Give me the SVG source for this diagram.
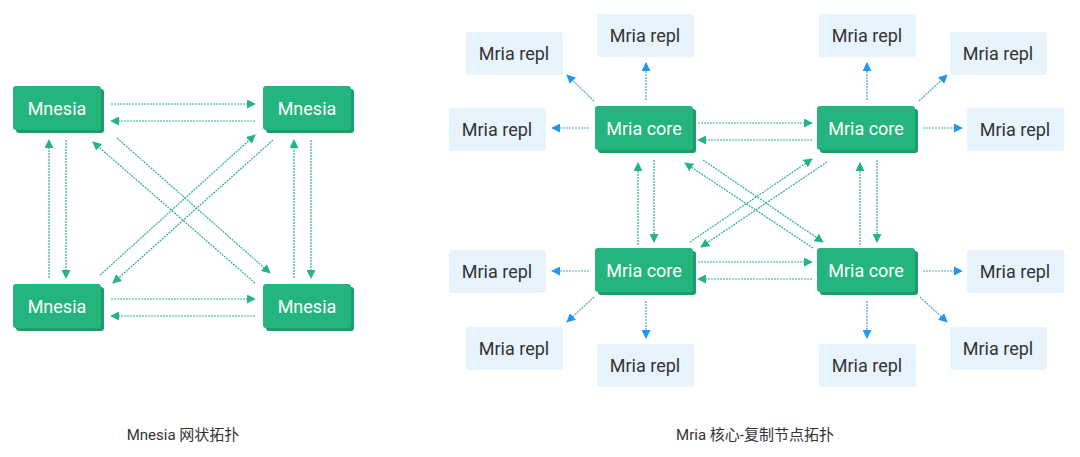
<svg xmlns="http://www.w3.org/2000/svg" width="1080" height="457" viewBox="0 0 1080 457">
<style>
.sh{fill:#1c9d69}
.nd{fill:#24b47e}
.wt{font-family:Roboto,"Liberation Sans",sans-serif;font-size:18px;fill:#ffffff;text-anchor:middle;dominant-baseline:central}
.rp{fill:#e8f4fd}
.dt{font-family:Roboto,"Liberation Sans",sans-serif;font-size:18px;fill:#333333;text-anchor:middle;dominant-baseline:central}
.cap{font-family:Roboto,"Noto Sans CJK SC",sans-serif;font-size:15px;fill:#333333;text-anchor:middle;dominant-baseline:central}
.g{stroke:#2bb37f;stroke-width:1.2;stroke-dasharray:2 1;fill:none;marker-end:url(#ag)}
.b{stroke:#45a9c9;stroke-width:1.2;stroke-dasharray:2 1;fill:none;marker-end:url(#ab)}
</style>
<defs>
<marker id="ag" viewBox="0 0 10 10" refX="9" refY="5" markerWidth="9" markerHeight="9" markerUnits="userSpaceOnUse" orient="auto"><path d="M0,0 L10,5 L0,10 z" fill="#24b47e"/></marker>
<marker id="ab" viewBox="0 0 10 10" refX="9" refY="5" markerWidth="9" markerHeight="9" markerUnits="userSpaceOnUse" orient="auto"><path d="M0,0 L10,5 L0,10 z" fill="#2196f3"/></marker>
</defs>
<rect width="1080" height="457" fill="#ffffff"/>

<g id="connectors">
<!-- Mnesia mesh -->
<line class="g" x1="111" y1="104" x2="255" y2="104"/>
<line class="g" x1="255" y1="121" x2="111" y2="121"/>
<line class="g" x1="111" y1="299" x2="255" y2="299"/>
<line class="g" x1="255" y1="316" x2="111" y2="316"/>
<line class="g" x1="49" y1="278" x2="49" y2="140"/>
<line class="g" x1="66" y1="140" x2="66" y2="278"/>
<line class="g" x1="294" y1="278" x2="294" y2="140"/>
<line class="g" x1="311" y1="140" x2="311" y2="278"/>
<line class="g" x1="117" y1="138" x2="270" y2="273"/>
<line class="g" x1="255" y1="283" x2="93" y2="142"/>
<line class="g" x1="100" y1="275" x2="255" y2="135"/>
<line class="g" x1="273" y1="140" x2="113" y2="283"/>
<!-- Mria core mesh -->
<line class="g" x1="698" y1="123" x2="812" y2="123"/>
<line class="g" x1="812" y1="140" x2="698" y2="140"/>
<line class="g" x1="698" y1="262" x2="812" y2="262"/>
<line class="g" x1="812" y1="279" x2="698" y2="279"/>
<line class="g" x1="638" y1="245" x2="638" y2="163"/>
<line class="g" x1="654" y1="160" x2="654" y2="242"/>
<line class="g" x1="860" y1="245" x2="860" y2="163"/>
<line class="g" x1="877" y1="160" x2="877" y2="242"/>
<line class="g" x1="703" y1="160" x2="823" y2="242"/>
<line class="g" x1="813" y1="248" x2="685" y2="163"/>
<line class="g" x1="690" y1="242" x2="812" y2="159"/>
<line class="g" x1="827" y1="162" x2="701" y2="247"/>
<!-- core to repl -->
<line class="b" x1="646" y1="100" x2="646" y2="63"/>
<line class="b" x1="594" y1="101" x2="567" y2="75"/>
<line class="b" x1="589" y1="128" x2="552" y2="128"/>
<line class="b" x1="867" y1="100" x2="867" y2="63"/>
<line class="b" x1="919" y1="101" x2="947" y2="75"/>
<line class="b" x1="923" y1="128" x2="962" y2="128"/>
<line class="b" x1="589" y1="271" x2="552" y2="271"/>
<line class="b" x1="594" y1="297" x2="567" y2="322"/>
<line class="b" x1="646" y1="301" x2="646" y2="338"/>
<line class="b" x1="923" y1="271" x2="962" y2="271"/>
<line class="b" x1="920" y1="297" x2="947" y2="322"/>
<line class="b" x1="867" y1="301" x2="867" y2="338"/>
</g>

<g id="mnesia-tl"><rect class="sh" x="16" y="89" width="88" height="44" rx="3"/><rect class="nd" x="13" y="86" width="88" height="44" rx="3"/><text class="wt" x="57" y="108">Mnesia</text></g>
<g id="mnesia-tr"><rect class="sh" x="266" y="89" width="88" height="44" rx="3"/><rect class="nd" x="263" y="86" width="88" height="44" rx="3"/><text class="wt" x="307" y="108">Mnesia</text></g>
<g id="mnesia-bl"><rect class="sh" x="16" y="287" width="88" height="44" rx="3"/><rect class="nd" x="13" y="284" width="88" height="44" rx="3"/><text class="wt" x="57" y="306">Mnesia</text></g>
<g id="mnesia-br"><rect class="sh" x="266" y="287" width="88" height="44" rx="3"/><rect class="nd" x="263" y="284" width="88" height="44" rx="3"/><text class="wt" x="307" y="306">Mnesia</text></g>

<g id="core-tl"><rect class="sh" x="598" y="109" width="98" height="44" rx="3"/><rect class="nd" x="595" y="106" width="98" height="44" rx="3"/><text class="wt" x="644" y="128">Mria core</text></g>
<g id="core-tr"><rect class="sh" x="820" y="109" width="98" height="44" rx="3"/><rect class="nd" x="817" y="106" width="98" height="44" rx="3"/><text class="wt" x="866" y="128">Mria core</text></g>
<g id="core-bl"><rect class="sh" x="598" y="251" width="98" height="44" rx="3"/><rect class="nd" x="595" y="248" width="98" height="44" rx="3"/><text class="wt" x="644" y="270">Mria core</text></g>
<g id="core-br"><rect class="sh" x="820" y="251" width="98" height="44" rx="3"/><rect class="nd" x="817" y="248" width="98" height="44" rx="3"/><text class="wt" x="866" y="270">Mria core</text></g>

<g id="repl-1"><rect class="rp" x="466" y="32" width="97" height="43" rx="3"/><text class="dt" x="514" y="53">Mria repl</text></g>
<g id="repl-2"><rect class="rp" x="597" y="14" width="97" height="43" rx="3"/><text class="dt" x="645" y="35">Mria repl</text></g>
<g id="repl-3"><rect class="rp" x="449" y="108" width="97" height="43" rx="3"/><text class="dt" x="497" y="129">Mria repl</text></g>
<g id="repl-4"><rect class="rp" x="819" y="14" width="97" height="43" rx="3"/><text class="dt" x="867" y="35">Mria repl</text></g>
<g id="repl-5"><rect class="rp" x="950" y="32" width="97" height="43" rx="3"/><text class="dt" x="998" y="53">Mria repl</text></g>
<g id="repl-6"><rect class="rp" x="967" y="108" width="97" height="43" rx="3"/><text class="dt" x="1015" y="129">Mria repl</text></g>
<g id="repl-7"><rect class="rp" x="449" y="250" width="97" height="43" rx="3"/><text class="dt" x="497" y="271">Mria repl</text></g>
<g id="repl-8"><rect class="rp" x="466" y="327" width="97" height="43" rx="3"/><text class="dt" x="514" y="348">Mria repl</text></g>
<g id="repl-9"><rect class="rp" x="597" y="344" width="97" height="43" rx="3"/><text class="dt" x="645" y="365">Mria repl</text></g>
<g id="repl-10"><rect class="rp" x="967" y="250" width="97" height="43" rx="3"/><text class="dt" x="1015" y="271">Mria repl</text></g>
<g id="repl-11"><rect class="rp" x="950" y="327" width="97" height="43" rx="3"/><text class="dt" x="998" y="348">Mria repl</text></g>
<g id="repl-12"><rect class="rp" x="819" y="344" width="97" height="43" rx="3"/><text class="dt" x="867" y="365">Mria repl</text></g>

<text class="cap" x="183" y="435">Mnesia 网状拓扑</text>
<text class="cap" x="755" y="435">Mria 核心-复制节点拓扑</text>
</svg>
